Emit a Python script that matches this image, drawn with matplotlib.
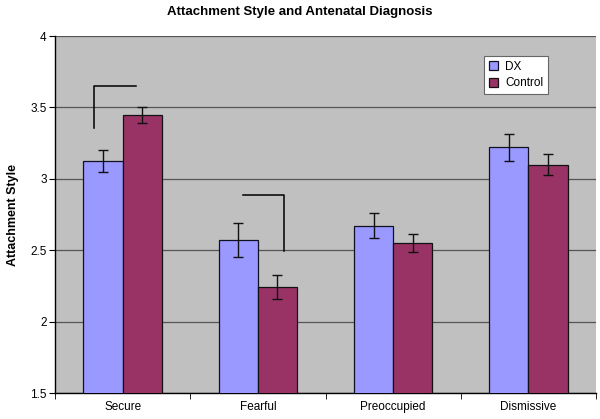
import matplotlib
matplotlib.use("Agg")
import matplotlib.pyplot as plt
import numpy as np

plt.rcParams["font.family"] = ["Liberation Sans", "DejaVu Sans"]

# ── Data ─────────────────────────────────────────────────────────────────────
categories = ["Secure", "Fearful", "Preoccupied", "Dismissive"]
dx_means = [3.125, 2.573, 2.672, 3.22]
dx_err = [0.078, 0.12, 0.089, 0.095]
control_means = [3.449, 2.244, 2.553, 3.099]
control_err = [0.057, 0.083, 0.063, 0.072]
y_ticks = [1.5, 2, 2.5, 3, 3.5, 4]
y_ticklabels = ["1.5", "2", "2.5", "3", "3.5", "4"]

# significance brackets: (x points, y points) in data coords
bracket_secure = ([-0.21, -0.21, 0.10], [3.358, 3.648, 3.648])
bracket_fearful = ([0.89, 1.195, 1.195], [2.887, 2.887, 2.496])

# ── Plot ─────────────────────────────────────────────────────────────────────
fig = plt.figure(figsize=(6.0, 4.19), dpi=100)
ax = fig.add_axes([0.0917, 0.062, 0.9016, 0.852])
ax.set_facecolor("#C0C0C0")

x = np.arange(len(categories))
w = 0.29
ax.bar(x - w / 2, dx_means, w, yerr=dx_err, color="#9999FF",
       edgecolor="#111122", linewidth=0.9, label="DX", zorder=3,
       error_kw=dict(ecolor="#111111", elinewidth=1, capsize=3.5, capthick=1))
ax.bar(x + w / 2, control_means, w, yerr=control_err, color="#993366",
       edgecolor="#111111", linewidth=0.9, label="Control", zorder=3,
       error_kw=dict(ecolor="#111111", elinewidth=1, capsize=3.5, capthick=1))

for bx, by in (bracket_secure, bracket_fearful):
    ax.plot(bx, by, color="black", linewidth=1.1, zorder=4)

ax.set_xlim(-0.5, len(categories) - 0.5)
ax.set_ylim(1.5, 4)
ax.set_yticks(y_ticks)
ax.set_yticklabels(y_ticklabels)
ax.set_xticks(x)
ax.set_xticklabels(categories)
ax.set_xticks(np.arange(len(categories) + 1) - 0.5, minor=True)
ax.tick_params(axis="x", which="major", length=0, pad=6, labelsize=8.5)
ax.tick_params(axis="x", which="minor", length=4, direction="out")
ax.tick_params(axis="y", length=4, direction="out", labelsize=8.5, pad=2)

ax.yaxis.grid(True, color="#555555", linewidth=0.9, zorder=0)
ax.set_axisbelow(True)
for s in ["top", "right"]:
    ax.spines[s].set_visible(False)
for s in ["left", "bottom"]:
    ax.spines[s].set_color("black")
    ax.spines[s].set_linewidth(1)

ax.set_ylabel("Attachment Style", fontsize=9, fontweight="bold", labelpad=8)
fig.suptitle("Attachment Style and Antenatal Diagnosis", fontsize=9.5,
             fontweight="bold", x=0.5, y=0.985)

leg = ax.legend(loc="upper left", bbox_to_anchor=(0.793, 0.944), fontsize=8.5,
                frameon=True, fancybox=False, edgecolor="#666666",
                framealpha=1, handlelength=0.8, handleheight=0.8,
                borderpad=0.4, labelspacing=0.4, handletextpad=0.6,
                borderaxespad=0)
leg.get_frame().set_linewidth(0.8)

fig.savefig("out.png", dpi=100)
